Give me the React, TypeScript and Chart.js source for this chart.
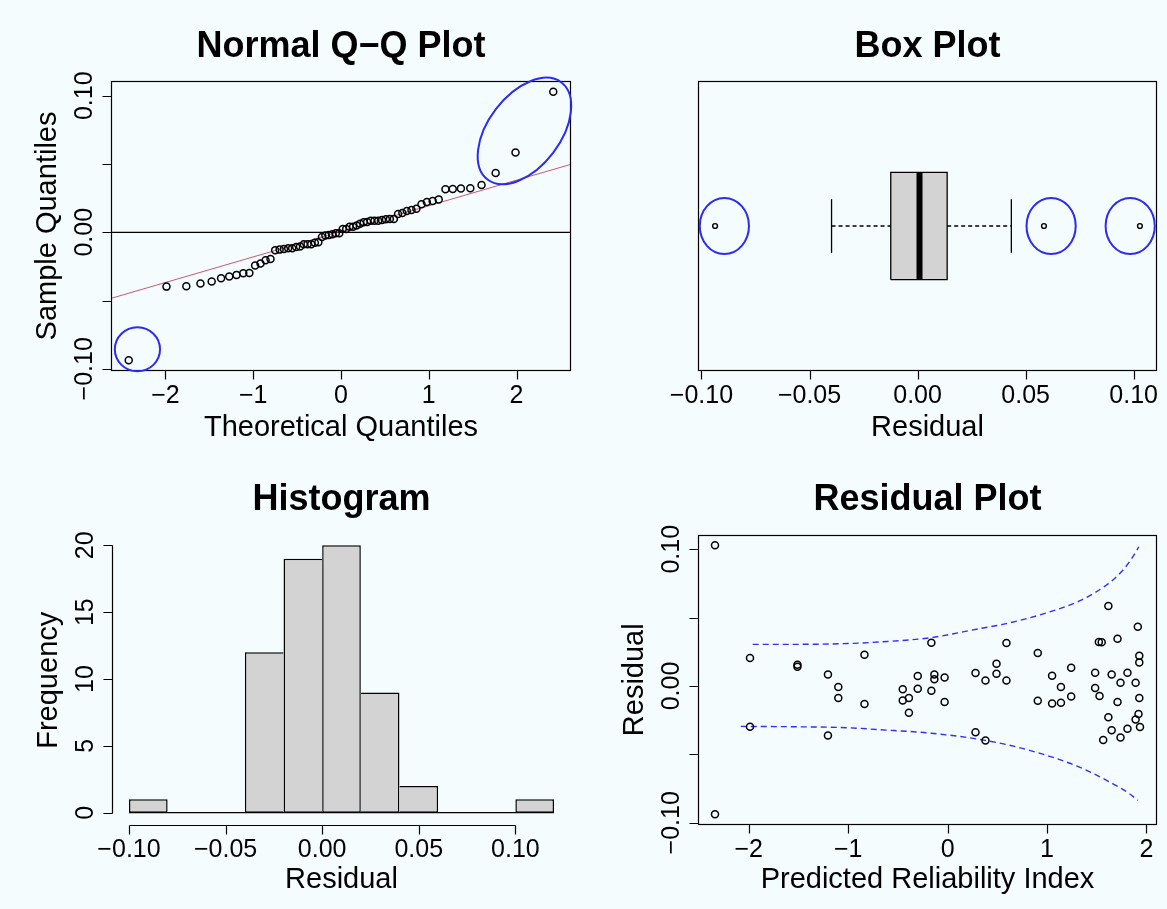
import React, { useEffect, useRef } from "react";
import { Chart, registerables } from "chart.js";

Chart.register(...registerables);

const FONT = '"Liberation Sans", Arial, Helvetica, sans-serif';
const PAGE_BG = "#f4fcfd";
const ANNOT_BLUE = "#2c2cf0";
const BAND_BLUE = "#3030f4";
const BOX_GRAY = "#d3d3d3";
const QQ_LINE_COLOR = "rgba(200, 70, 100, 0.9)";

// ---------- Normal Q-Q plot ----------
const qqTheoretical = [
  -2.418, -1.988, -1.762, -1.601, -1.473, -1.366, -1.273, -1.19, -1.113, -1.044,
  -0.978, -0.917, -0.859, -0.803, -0.75, -0.699, -0.65, -0.602, -0.556, -0.511,
  -0.467, -0.424, -0.381, -0.339, -0.298, -0.258, -0.217, -0.178, -0.138, -0.098,
  -0.059, -0.02, 0.02, 0.059, 0.098, 0.138, 0.178, 0.217, 0.258, 0.298, 0.339,
  0.381, 0.424, 0.467, 0.511, 0.556, 0.602, 0.65, 0.699, 0.75, 0.803, 0.859,
  0.917, 0.978, 1.044, 1.113, 1.19, 1.273, 1.366, 1.473, 1.601, 1.762, 1.988, 2.418,
];
const qqSample = [
  -0.0937, -0.0398, -0.0395, -0.0376, -0.0361, -0.0337, -0.0324, -0.0312, -0.03,
  -0.0298, -0.0244, -0.0229, -0.0205, -0.0195, -0.0132, -0.0127, -0.0122, -0.0117,
  -0.0117, -0.0107, -0.0105, -0.0088, -0.0088, -0.0088, -0.0076, -0.0073, -0.0034,
  -0.0024, -0.002, -0.0015, -0.0007, -0.0007, 0.0024, 0.0024, 0.0041, 0.0041,
  0.0049, 0.0063, 0.0073, 0.0076, 0.0085, 0.0085, 0.0085, 0.009, 0.0095, 0.0098,
  0.0098, 0.0134, 0.0141, 0.0156, 0.0163, 0.0173, 0.0205, 0.0222, 0.0229, 0.0241,
  0.0315, 0.0317, 0.032, 0.0322, 0.0346, 0.0434, 0.0585, 0.1029,
];
const qqLineX = [-2.62, 2.62];
const qqLineY = [-0.0484, 0.0498];
const qqXTicks = [-2, -1, 0, 1, 2];
const qqXLabels = ["\u22122", "\u22121", "0", "1", "2"];
const residYTicks = [-0.1, -0.05, 0, 0.05, 0.1];
const residYLabels = ["\u22120.10", "", "0.00", "", "0.10"];
const qqXRange = [-2.62, 2.62];
const residRange = [-0.1016, 0.1108];

// ---------- Box plot ----------
// whisker low, Q1, median, Q3, whisker high
const boxStats = [-0.0398, -0.0124, 0.0009, 0.0137, 0.0434];
const boxOutliers = [-0.0937, 0.0585, 0.1029];
const boxXTicks = [-0.1, -0.05, 0, 0.05, 0.1];
const boxXLabels = ["\u22120.10", "\u22120.05", "0.00", "0.05", "0.10"];
const boxYRange = [0.46, 1.54];

// ---------- Histogram ----------
const histBreaks = [-0.1, -0.08, -0.06, -0.04, -0.02, 0, 0.02, 0.04, 0.06, 0.08, 0.1, 0.12];
const histCounts = [1, 0, 0, 12, 19, 20, 9, 2, 0, 0, 1];
const histXTicks = [-0.1, -0.05, 0, 0.05, 0.1];
const histXLabels = ["\u22120.10", "\u22120.05", "0.00", "0.05", "0.10"];
const histYTicks = [0, 5, 10, 15, 20];
const histYLabels = ["0", "5", "10", "15", "20"];
const histXRange = [-0.1088, 0.1288];
const histYRange = [-0.995, 20.81];

// ---------- Residual plot ----------
const predictedIndex = [
  -2.339, -2.339, -1.987, -1.987, -1.51, -1.51, -1.203, -1.203, -1.099, -1.099,
  -0.836, -0.836, -0.451, -0.451, -0.389, -0.389, -0.3, -0.3, -0.163, -0.163,
  -0.133, -0.133, -0.03, -0.03, 0.281, 0.281, 0.381, 0.381, 0.492, 0.492, 0.592,
  0.592, 0.907, 0.907, 1.051, 1.051, 1.14, 1.14, 1.243, 1.243, 1.484, 1.484,
  1.521, 1.55, 1.528, 1.565, 1.617, 1.617, 1.65, 1.65, 1.709, 1.709, 1.739, 1.739,
  1.809, 1.809, 1.891, 1.891, 1.913, 1.92, 1.928, 1.928, 1.928, 1.935,
];
const residuals = [
  0.1029, -0.0937, 0.0205, -0.0298, 0.0156, 0.0141, 0.0085, -0.0361, -0.0007,
  -0.0088, 0.0229, -0.0132, -0.0024, -0.0105, -0.0088, -0.0195, 0.0073, -0.002,
  0.0317, -0.0034, 0.0085, 0.0049, 0.0063, -0.0117, 0.0095, -0.0337, 0.0041,
  -0.0398, 0.0163, 0.009, 0.0315, 0.0041, 0.0241, -0.0107, 0.0076, -0.0127,
  -0.0007, -0.0122, 0.0134, -0.0076, 0.0098, -0.0015, 0.0322, 0.032, -0.0073,
  -0.0395, 0.0585, -0.0229, 0.0085, -0.0324, 0.0346, -0.0117, 0.0024, -0.0376,
  0.0098, -0.0312, 0.0024, -0.0244, 0.0434, -0.0205, 0.0222, 0.0173, -0.0088, -0.03,
];
const upperBandX = [-1.96, -1.5, -1.0, -0.685, -0.165, 0.321, 0.589, 0.991, 1.326, 1.595, 1.762, 1.862, 1.923];
const upperBandY = [0.0305, 0.0305, 0.0311, 0.0322, 0.0354, 0.042, 0.0456, 0.0534, 0.0622, 0.0737, 0.0846, 0.0944, 0.1017];
const lowerBandX = [-2.08, -1.5, -1.0, -0.685, -0.165, 0.378, 0.824, 1.326, 1.661, 1.829, 1.913];
const lowerBandY = [-0.0295, -0.0298, -0.0305, -0.0319, -0.0345, -0.0397, -0.047, -0.0593, -0.0714, -0.0787, -0.0836];
const residXTicks = [-2, -1, 0, 1, 2];
const residXLabels = ["\u22122", "\u22121", "0", "1", "2"];
const residXRange = [-2.51, 2.106];

type Ellipse = { x: number; y: number; rx: number; ry: number; angle: number };
type PanelSpec = {
  title: string;
  xTitle: string;
  yTitle?: string;
  xTicks: number[];
  xLabels: string[];
  yTicks?: number[];
  yLabels?: string[];
  box: boolean;
  xLabelGap: number;
  xTitleGap: number;
  ellipses?: Ellipse[];
};

const TICK_LEN = 9;

function rAxesPlugin(spec: PanelSpec) {
  return {
    id: "rAxes",
    afterDraw(chart: any) {
      const { ctx, chartArea: ca } = chart;
      const xs = chart.scales.x;
      const ys = chart.scales.y;
      const L = Math.round(ca.left) + 0.5;
      const R = Math.round(ca.right) - 0.5;
      const T = Math.round(ca.top) + 0.5;
      const B = Math.round(ca.bottom) - 0.5;
      ctx.save();
      ctx.setLineDash([]);
      ctx.lineWidth = 1.2;
      ctx.strokeStyle = "#000";
      ctx.fillStyle = "#000";
      if (spec.box) ctx.strokeRect(L, T, R - L, B - T);

      // x axis
      const xp = spec.xTicks.map((v) => Math.round(xs.getPixelForValue(v)) + 0.5);
      ctx.beginPath();
      if (!spec.box) {
        ctx.moveTo(xp[0], B);
        ctx.lineTo(xp[xp.length - 1], B);
      }
      xp.forEach((p) => {
        ctx.moveTo(p, B);
        ctx.lineTo(p, B + TICK_LEN);
      });
      ctx.stroke();
      ctx.font = `25px ${FONT}`;
      ctx.textAlign = "center";
      ctx.textBaseline = "alphabetic";
      spec.xTicks.forEach((v, i) => {
        const lab = spec.xLabels[i];
        if (lab) ctx.fillText(lab, xs.getPixelForValue(v), ca.bottom + spec.xLabelGap);
      });

      // y axis
      if (spec.yTicks && spec.yLabels) {
        const yp = spec.yTicks.map((v) => Math.round(ys.getPixelForValue(v)) + 0.5);
        ctx.beginPath();
        if (!spec.box) {
          ctx.moveTo(L, yp[0]);
          ctx.lineTo(L, yp[yp.length - 1]);
        }
        yp.forEach((p) => {
          ctx.moveTo(L, p);
          ctx.lineTo(L - TICK_LEN, p);
        });
        ctx.stroke();
        spec.yTicks.forEach((v, i) => {
          const lab = spec.yLabels![i];
          if (!lab) return;
          ctx.save();
          ctx.translate(ca.left - 19, ys.getPixelForValue(v));
          ctx.rotate(-Math.PI / 2);
          ctx.fillText(lab, 0, 0);
          ctx.restore();
        });
      }

      // axis titles
      ctx.font = `29px ${FONT}`;
      ctx.fillText(spec.xTitle, (ca.left + ca.right) / 2, ca.bottom + spec.xTitleGap);
      if (spec.yTitle) {
        ctx.save();
        ctx.translate(ca.left - 55, (ca.top + ca.bottom) / 2);
        ctx.rotate(-Math.PI / 2);
        ctx.fillText(spec.yTitle, 0, 0);
        ctx.restore();
      }

      // main title
      ctx.font = `bold 36px ${FONT}`;
      ctx.fillText(spec.title, (ca.left + ca.right) / 2, ca.top - 24.5);

      // highlighted outliers
      if (spec.ellipses) {
        ctx.strokeStyle = ANNOT_BLUE;
        ctx.lineWidth = 2;
        spec.ellipses.forEach((e) => {
          ctx.beginPath();
          ctx.ellipse(xs.getPixelForValue(e.x), ys.getPixelForValue(e.y), e.rx, e.ry, e.angle, 0, Math.PI * 2);
          ctx.stroke();
        });
      }
      ctx.restore();
    },
  };
}

function hiddenScale(range: number[], extra: any = {}) {
  return {
    type: "linear",
    display: false,
    min: range[0],
    max: range[1],
    bounds: "data",
    offset: false,
    afterBuildTicks: (s: any) => {
      s.ticks = [];
    },
    ...extra,
  };
}

function baseOptions(xr: number[], yr: number[], pad: any) {
  return {
    responsive: false,
    maintainAspectRatio: false,
    animation: false,
    devicePixelRatio: 1,
    events: [],
    layout: { padding: pad },
    plugins: {
      legend: { display: false },
      tooltip: { enabled: false },
      title: { display: false },
    },
    scales: { x: hiddenScale(xr), y: hiddenScale(yr) },
  };
}

const pointStyle = (r: number, w: number) => ({
  pointRadius: r,
  pointHoverRadius: r,
  pointBorderWidth: w,
  pointBorderColor: "#000",
  pointBackgroundColor: "rgba(0,0,0,0)",
  borderColor: "#000",
  backgroundColor: "rgba(0,0,0,0)",
});

const lineStyle = (color: string, width: number, dash: number[] = []) => ({
  showLine: true,
  pointRadius: 0,
  pointHoverRadius: 0,
  borderColor: color,
  backgroundColor: "rgba(0,0,0,0)",
  borderWidth: width,
  borderDash: dash,
  fill: false,
});

function qqConfig(): any {
  return {
    type: "scatter",
    data: {
      datasets: [
        { data: qqTheoretical.map((t, i) => ({ x: t, y: qqSample[i] })), ...pointStyle(3.5, 1.5) },
        { data: qqLineX.map((x, i) => ({ x, y: qqLineY[i] })), ...lineStyle(QQ_LINE_COLOR, 1) },
        { data: [{ x: qqXRange[0], y: 0 }, { x: qqXRange[1], y: 0 }], ...lineStyle("#000", 1.3) },
      ],
    },
    options: baseOptions(qqXRange, residRange, { left: 111, top: 81, right: 13, bottom: 84 }),
    plugins: [
      rAxesPlugin({
        title: "Normal Q\u2212Q Plot",
        xTitle: "Theoretical Quantiles",
        yTitle: "Sample Quantiles",
        xTicks: qqXTicks,
        xLabels: qqXLabels,
        yTicks: residYTicks,
        yLabels: residYLabels,
        box: true,
        xLabelGap: 32,
        xTitleGap: 65,
        ellipses: [
          { x: -2.319, y: -0.0857, rx: 22.6, ry: 22, angle: 0 },
          { x: 2.09, y: 0.0742, rx: 61, ry: 36, angle: -0.92 },
        ],
      }),
    ],
  };
}

function boxConfig(): any {
  const [wLo, q1, med, q3, wHi] = boxStats;
  return {
    type: "scatter",
    data: {
      datasets: [
        { data: boxOutliers.map((v) => ({ x: v, y: 1 })), ...pointStyle(2.4, 1.4) },
        { data: [{ x: med, y: 0.8 }, { x: med, y: 1.2 }], ...lineStyle("#000", 6), borderCapStyle: "butt" },
        {
          data: [
            { x: q1, y: 0.8 },
            { x: q3, y: 0.8 },
            { x: q3, y: 1.2 },
            { x: q1, y: 1.2 },
            { x: q1, y: 0.8 },
          ],
          ...lineStyle("#000", 1.3),
        },
        { data: [{ x: wLo, y: 1 }, { x: q1, y: 1 }], ...lineStyle("#000", 1.3, [4, 3]) },
        { data: [{ x: q3, y: 1 }, { x: wHi, y: 1 }], ...lineStyle("#000", 1.3, [4, 3]) },
        { data: [{ x: wLo, y: 0.9 }, { x: wLo, y: 1.1 }], ...lineStyle("#000", 1.3) },
        { data: [{ x: wHi, y: 0.9 }, { x: wHi, y: 1.1 }], ...lineStyle("#000", 1.3) },
        {
          data: [{ x: q1, y: 1.2 }, { x: q3, y: 1.2 }],
          showLine: true,
          pointRadius: 0,
          borderColor: "rgba(0,0,0,0)",
          borderWidth: 0,
          backgroundColor: BOX_GRAY,
          fill: { value: 0.8 },
        },
      ],
    },
    options: baseOptions(residRange, boxYRange, { left: 114, top: 81, right: 10, bottom: 84 }),
    plugins: [
      rAxesPlugin({
        title: "Box Plot",
        xTitle: "Residual",
        xTicks: boxXTicks,
        xLabels: boxXLabels,
        box: true,
        xLabelGap: 32,
        xTitleGap: 65,
        ellipses: [
          { x: -0.0894, y: 1, rx: 24.6, ry: 28, angle: 0 },
          { x: 0.0618, y: 1, rx: 24.6, ry: 28, angle: 0 },
          { x: 0.0984, y: 1, rx: 24.6, ry: 28, angle: 0 },
        ],
      }),
    ],
  };
}

function histConfig(): any {
  const n = histCounts.length;
  return {
    type: "bar",
    data: {
      datasets: [
        {
          type: "bar",
          data: histCounts.map((c, i) => ({ x: (histBreaks[i] + histBreaks[i + 1]) / 2, y: c })),
          backgroundColor: BOX_GRAY,
          borderColor: "#000",
          borderSkipped: false,
          barPercentage: 1,
          categoryPercentage: 1,
          inflateAmount: 0,
          borderWidth: (c: any) => {
            const i = c.dataIndex;
            const h = histCounts[i];
            const prev = i > 0 ? histCounts[i - 1] : -1;
            const next = i < n - 1 ? histCounts[i + 1] : -1;
            return { top: 1.5, bottom: 1.5, left: h >= prev ? 1.5 : 0, right: h > next ? 1.5 : 0 };
          },
        },
        {
          type: "line",
          data: [{ x: histBreaks[0], y: 0 }, { x: histBreaks[histBreaks.length - 1], y: 0 }],
          ...lineStyle("#000", 1.3),
        },
      ],
    },
    options: baseOptions(histXRange, histYRange, { left: 112, top: 79.5, right: 13, bottom: 83 }),
    plugins: [
      rAxesPlugin({
        title: "Histogram",
        xTitle: "Residual",
        yTitle: "Frequency",
        xTicks: histXTicks,
        xLabels: histXLabels,
        yTicks: histYTicks,
        yLabels: histYLabels,
        box: false,
        xLabelGap: 31,
        xTitleGap: 62,
      }),
    ],
  };
}

function residConfig(): any {
  return {
    type: "scatter",
    data: {
      datasets: [
        { data: predictedIndex.map((x, i) => ({ x, y: residuals[i] })), ...pointStyle(3.5, 1.5) },
        {
          data: upperBandX.map((x, i) => ({ x, y: upperBandY[i] })),
          ...lineStyle(BAND_BLUE, 1.4, [6, 4]),
          cubicInterpolationMode: "monotone",
        },
        {
          data: lowerBandX.map((x, i) => ({ x, y: lowerBandY[i] })),
          ...lineStyle(BAND_BLUE, 1.4, [6, 4]),
          cubicInterpolationMode: "monotone",
        },
      ],
    },
    options: baseOptions(residXRange, residRange, { left: 114, top: 79.5, right: 10, bottom: 84 }),
    plugins: [
      rAxesPlugin({
        title: "Residual Plot",
        xTitle: "Predicted Reliability Index",
        yTitle: "Residual",
        xTicks: residXTicks,
        xLabels: residXLabels,
        yTicks: residYTicks,
        yLabels: residYLabels,
        box: true,
        xLabelGap: 32,
        xTitleGap: 63,
      }),
    ],
  };
}

const PANELS = [
  { left: 0, top: 0, width: 584, height: 455, make: qqConfig },
  { left: 584, top: 0, width: 583, height: 455, make: boxConfig },
  { left: 0, top: 455, width: 584, height: 454, make: histConfig },
  { left: 584, top: 455, width: 583, height: 454, make: residConfig },
];

export default function App() {
  const refs = [
    useRef<HTMLCanvasElement>(null),
    useRef<HTMLCanvasElement>(null),
    useRef<HTMLCanvasElement>(null),
    useRef<HTMLCanvasElement>(null),
  ];

  useEffect(() => {
    const charts: Chart[] = [];
    PANELS.forEach((p, i) => {
      const el = refs[i].current;
      if (el) charts.push(new Chart(el, p.make()));
    });
    return () => charts.forEach((c) => c.destroy());
  }, []);

  return (
    <div
      style={{
        position: "fixed",
        left: 0,
        top: 0,
        width: 1167,
        height: 909,
        background: PAGE_BG,
        overflow: "hidden",
      }}
    >
      {PANELS.map((p, i) => (
        <canvas
          key={i}
          ref={refs[i]}
          width={p.width}
          height={p.height}
          style={{ position: "absolute", left: p.left, top: p.top, width: p.width, height: p.height }}
        />
      ))}
    </div>
  );
}
